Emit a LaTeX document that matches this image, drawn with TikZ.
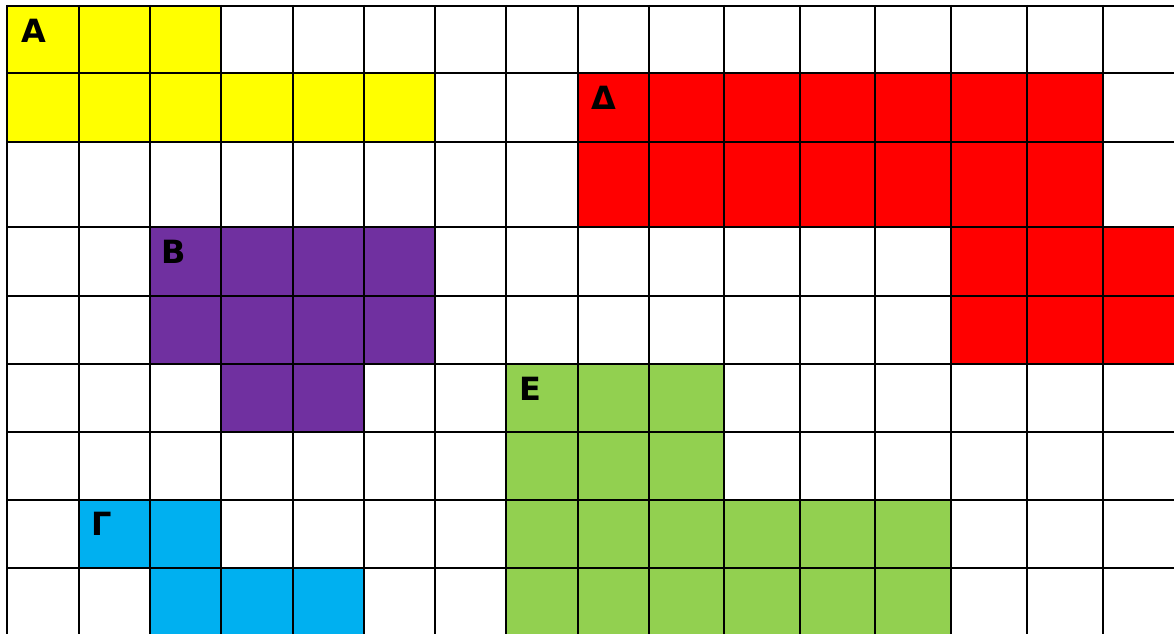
\documentclass[tikz,border=0pt]{standalone}
\usepackage{fontspec}
\newfontfamily\lblfont{DejaVu Sans}
\definecolor{cyel}{HTML}{FFFF00}
\definecolor{cred}{HTML}{FF0000}
\definecolor{cpur}{HTML}{7030A0}
\definecolor{cgrn}{HTML}{92D050}
\definecolor{cblu}{HTML}{00B0F0}
\tikzset{
  gridline/.style={line width=2pt, black},
  lbl/.style={inner sep=0pt, font=\lblfont\bfseries\fontsize{32}{32}\selectfont, anchor=center}
}
\begin{document}
\begin{tikzpicture}[x=1pt,y=-1pt]
\useasboundingbox (0,0) rectangle (1174,634);
\fill[white] (0,0) rectangle (1174,634);
% yellow A
\fill[cyel] (7,6) rectangle (221,72.5);
\fill[cyel] (7,72.5) rectangle (434.5,142);
% red Delta
\fill[cred] (577.5,72.5) rectangle (1102.5,227);
\fill[cred] (950.5,227) rectangle (1174,363.5);
% purple B
\fill[cpur] (150,227) rectangle (434.5,363.5);
\fill[cpur] (221,363.5) rectangle (363.5,432);
% green E
\fill[cgrn] (506,363.5) rectangle (724,500);
\fill[cgrn] (506,500) rectangle (950.5,634);
% blue Gamma
\fill[cblu] (79,500) rectangle (221,568);
\fill[cblu] (150,568) rectangle (363.5,634);
% grid
\foreach \x in {7,79,150,221,292.5,363.5,434.5,506,577.5,649,724,800,875,950.5,1026.5,1102.5}
  \draw[gridline] (\x,5) -- (\x,634);
\foreach \y in {6,72.5,142,227,296,363.5,432,500,568}
  \draw[gridline] (6,\y) -- (1174,\y);
% labels
\node[lbl] (la) at (34,30.5) {Α};
\node[lbl] (ld) at (604,98) {Δ};
\node[lbl] (lb) at (174,252) {Β};
\node[lbl] (le) at (530,389) {Ε};
\node[lbl] (lg) at (102,524) {Γ};
\end{tikzpicture}
\end{document}
